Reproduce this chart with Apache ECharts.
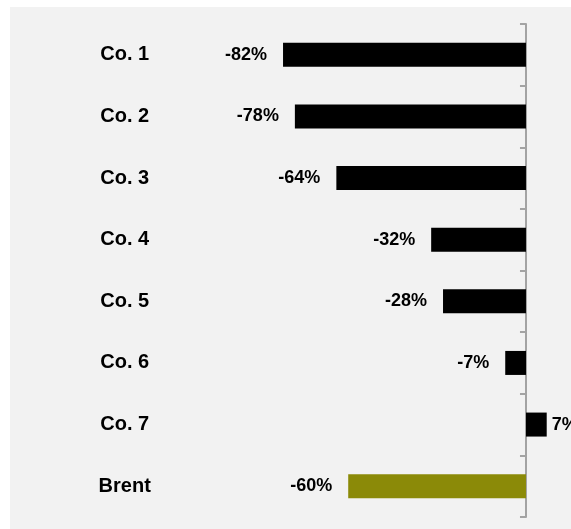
<!DOCTYPE html>
<html>
<head>
<meta charset="utf-8">
<script src="https://cdn.jsdelivr.net/npm/echarts@6/dist/echarts.min.js"></script>
<style>
  html, body { margin: 0; padding: 0; background: #ffffff; }
  #chart { width: 571px; height: 529px; }
</style>
</head>
<body>
<div id="chart"></div>
<script>
// categories top to bottom
const categories = ['Co. 1', 'Co. 2', 'Co. 3', 'Co. 4', 'Co. 5', 'Co. 6', 'Co. 7', 'Brent']
// change in %
const changes = [-82, -78, -64, -32, -28, -7, 7, -60]
const barColors = ['#000000', '#000000', '#000000', '#000000', '#000000', '#000000', '#000000', '#8b8a08']

const chart = echarts.init(document.getElementById('chart'))

// bar data with label side depending on sign
const barData = changes.map((v, i) => ({
  value: v,
  itemStyle: { color: barColors[i] },
  label: v < 0 ? { position: 'left', distance: 16 } : { position: 'right', distance: 5 }
}))

const option = {
  animation: false,
  textStyle: { fontFamily: 'Liberation Sans, Arial, sans-serif' },
  graphic: [
    {
      type: 'rect',
      left: 10,
      top: 7,
      shape: { width: 561, height: 522 },
      style: { fill: '#f2f2f2' },
      z: -10
    }
  ],
  grid: {
    left: 229.7,
    right: 15.4,
    top: 24,
    bottom: 12
  },
  xAxis: {
    type: 'value',
    min: -100,
    max: 10,
    show: false,
    splitLine: { show: false }
  },
  yAxis: [
    {
      // category labels on the far left
      type: 'category',
      data: categories,
      inverse: true,
      axisLine: { show: false, onZero: false },
      axisTick: { show: false },
      axisLabel: {
        color: '#000',
        fontSize: 20,
        fontWeight: 'bold',
        align: 'center',
        margin: 105
      }
    },
    {
      // the zero line with ticks
      type: 'category',
      data: categories,
      inverse: true,
      position: 'left',
      axisLine: { show: true, onZero: true, lineStyle: { color: '#a3a3a3', width: 2 } },
      axisTick: { show: true, length: 6, lineStyle: { color: '#a3a3a3', width: 2 } },
      axisLabel: { show: false }
    }
  ],
  series: [
    {
      type: 'bar',
      yAxisIndex: 0,
      barWidth: 24,
      data: barData,
      label: {
        show: true,
        color: '#000',
        fontSize: 18,
        fontWeight: 'bold',
        formatter: (p) => p.value + '%'
      },
      z: 1
    }
  ]
}
chart.setOption(option)
</script>
</body>
</html>
